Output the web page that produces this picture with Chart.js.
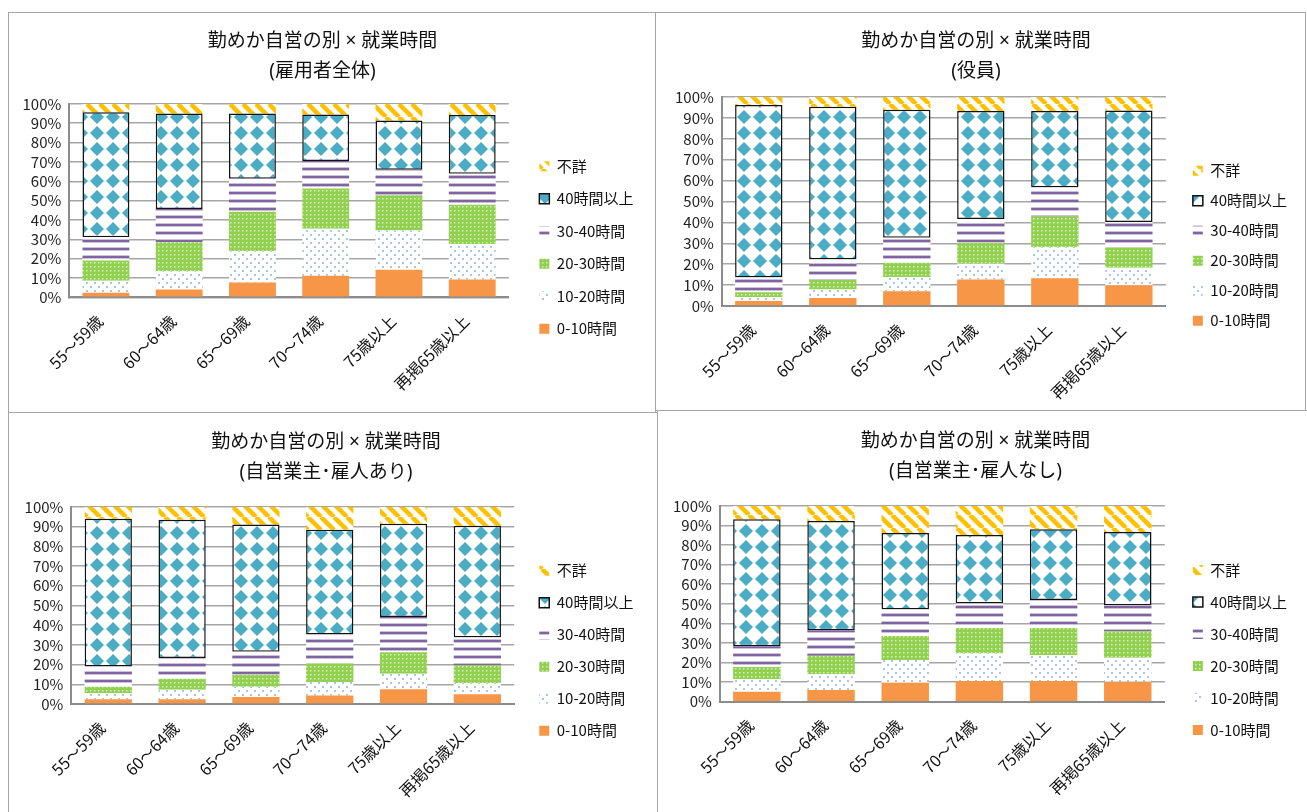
<!DOCTYPE html>
<html>
<head>
<meta charset="utf-8">
<script src="https://cdn.jsdelivr.net/npm/chart.js@4.4.0/dist/chart.umd.min.js"></script>
<style>
  body { margin: 0; background: #fff; width: 1307px; height: 812px; overflow: hidden; position: relative; }
  .frame { position: absolute; box-sizing: border-box; border: 1px solid #a6a6a6; }
  canvas { position: absolute; }
</style>
</head>
<body>
<div class="frame" style="left:8px;top:12px;width:648px;height:401px"></div>
<div class="frame" style="left:655px;top:12px;width:651px;height:399px"></div>
<div class="frame" style="left:8px;top:412px;width:650px;height:420px"></div>
<div class="frame" style="left:657px;top:410px;width:670px;height:420px"></div>
<canvas id="c1" width="646" height="420" style="left:9px;top:13px"></canvas>
<canvas id="c2" width="649" height="420" style="left:656px;top:13px"></canvas>
<canvas id="c3" width="648" height="420" style="left:9px;top:413px"></canvas>
<canvas id="c4" width="649" height="420" style="left:658px;top:411px"></canvas>
<script>
const categories = ['55～59歳', '60～64歳', '65～69歳', '70～74歳', '75歳以上', '再掲65歳以上']
const seriesNames = ['0-10時間', '10-20時間', '20-30時間', '30-40時間', '40時間以上', '不詳']
const mainTitle = '勤めか自営の別 × 就業時間'

// 雇用者全体
const allH0 = [2.4, 4.0, 7.6, 11.2, 14.2, 9.2]
const allH10 = [6.2, 9.5, 16.2, 24.2, 20.3, 18.4]
const allH20 = [10.4, 15.0, 20.4, 20.9, 18.3, 20.2]
const allH30 = [12.0, 17.1, 17.1, 14.2, 13.2, 16.1]
const allH40 = [64.7, 49.4, 33.7, 24.0, 25.4, 30.4]
const allUnk = [4.3, 5.0, 5.0, 5.5, 8.6, 5.7]

// 役員
const offH0 = [2.4, 3.8, 7.1, 12.7, 13.3, 9.9]
const offH10 = [1.9, 4.1, 6.7, 7.5, 14.9, 8.4]
const offH20 = [2.3, 4.6, 6.9, 10.1, 14.6, 9.6]
const offH30 = [7.0, 9.8, 12.0, 11.4, 13.9, 12.3]
const offH40 = [82.6, 73.1, 61.2, 51.7, 36.7, 53.4]
const offUnk = [3.8, 4.6, 6.1, 6.6, 6.6, 6.4]

// 自営業主･雇人あり
const empH0 = [2.4, 2.4, 3.6, 4.3, 7.5, 5.0]
const empH10 = [3.1, 4.8, 5.1, 6.8, 7.9, 5.6]
const empH20 = [3.2, 5.6, 6.2, 9.4, 10.9, 9.1]
const empH30 = [10.3, 10.6, 11.6, 14.7, 17.8, 14.0]
const empH40 = [75.0, 70.1, 64.6, 53.2, 47.4, 56.7]
const empUnk = [6.0, 6.5, 8.9, 11.6, 8.5, 9.6]

// 自営業主･雇人なし
const solH0 = [5.1, 6.0, 9.7, 10.6, 10.6, 10.2]
const solH10 = [6.5, 8.0, 11.6, 14.0, 13.3, 12.3]
const solH20 = [6.1, 9.5, 12.3, 13.1, 13.8, 13.5]
const solH30 = [10.6, 13.0, 13.5, 12.5, 14.3, 13.1]
const solH40 = [64.9, 55.8, 39.1, 35.0, 36.1, 37.6]
const solUnk = [6.8, 7.7, 13.8, 14.8, 11.9, 13.3]

const FONT = "'Noto Sans CJK JP', 'Noto Sans', sans-serif"
const TITLE_FONT = "'Noto Sans', 'Noto Sans CJK JP', sans-serif"

// ---------- fill patterns ----------
function tile(w, h, draw) {
  const c = document.createElement('canvas')
  c.width = w
  c.height = h
  const ctx = c.getContext('2d')
  draw(ctx, w, h)
  return ctx.createPattern(c, 'repeat')
}

const patStripe = tile(13, 13, (ctx, w) => {
  ctx.fillStyle = '#fff'
  ctx.fillRect(0, 0, w, w)
  ctx.strokeStyle = '#FFC000'
  ctx.lineWidth = 4.5
  for (let k = -1; k <= 1; k++) {
    ctx.beginPath()
    ctx.moveTo(k * w, 0)
    ctx.lineTo(k * w + w, w)
    ctx.stroke()
  }
})

const patDiamond = tile(16, 16, (ctx) => {
  ctx.fillStyle = '#fff'
  ctx.fillRect(0, 0, 16, 16)
  ctx.fillStyle = '#4BACC6'
  ctx.beginPath()
  ctx.moveTo(8, 1)
  ctx.lineTo(15, 8)
  ctx.lineTo(8, 15)
  ctx.lineTo(1, 8)
  ctx.closePath()
  ctx.fill()
})

const patLines = tile(8, 8, (ctx) => {
  ctx.fillStyle = '#fff'
  ctx.fillRect(0, 0, 8, 8)
  ctx.fillStyle = '#CCC1DA'
  ctx.fillRect(0, 2, 8, 4)
  ctx.fillStyle = '#8064A2'
  ctx.fillRect(0, 3, 8, 2)
})

const patGreen = tile(4, 4, (ctx) => {
  ctx.fillStyle = '#92D050'
  ctx.fillRect(0, 0, 4, 4)
  ctx.fillStyle = '#D6EEC0'
  ctx.fillRect(1, 1, 1.5, 1.5)
})

const patDots = tile(8, 8, (ctx) => {
  ctx.fillStyle = '#fff'
  ctx.fillRect(0, 0, 8, 8)
  ctx.fillStyle = '#A9C6EA'
  ctx.fillRect(1, 1, 2, 2)
  ctx.fillRect(5, 5, 2, 2)
})

const fills = ['#F79646', patDots, patGreen, patLines, patDiamond, patStripe]

// shift the legend block away from the plot, like Excel does
const legendShift = {
  id: 'legendShift',
  afterLayout(chart, args, opts) {
    const lg = chart.legend
    lg.left += opts.dx
    lg.right += opts.dx
    lg.top += opts.dy
    lg.bottom += opts.dy
  },
}

function makeChart(id, subtitle, series, look) {
  const datasets = series.map((data, i) => ({
    label: seriesNames[i],
    data: data,
    backgroundColor: fills[i],
    borderColor: i === 4 ? '#111' : 'transparent',
    borderWidth: i === 4 ? 1.5 : 0,
    borderSkipped: false,
  }))

  return new Chart(document.getElementById(id), {
    type: 'bar',
    data: { labels: categories, datasets: datasets },
    plugins: [legendShift],
    options: {
      responsive: false,
      animation: false,
      layout: { padding: look.pad },
      datasets: {
        bar: { categoryPercentage: 1, barPercentage: 0.64 },
      },
      scales: {
        x: {
          stacked: true,
          grid: { display: false, drawTicks: false },
          border: { color: '#8c8c8c', width: 2 },
          ticks: {
            minRotation: 45,
            maxRotation: 45,
            padding: 14,
            labelOffset: -6,
            color: '#111',
            font: { family: FONT, size: 16 },
          },
        },
        y: {
          stacked: true,
          min: 0,
          max: 100,
          grid: { color: '#A6A6A6', lineWidth: 1.5, drawTicks: false },
          border: { color: '#8c8c8c', width: 2 },
          ticks: {
            count: 11,
            autoSkip: false,
            padding: 8,
            color: '#222',
            font: { family: FONT, size: 15, lineHeight: 1 },
            callback: (v) => v + '%',
          },
        },
      },
      plugins: {
        legendShift: look.shift,
        title: {
          display: true,
          text: [mainTitle, subtitle],
          color: '#111',
          font: { family: TITLE_FONT, size: 19, weight: 'normal', lineHeight: 1.55 },
          padding: { top: look.titleTop, bottom: look.titleGap },
        },
        legend: {
          position: 'right',
          reverse: true,
          labels: {
            boxWidth: 10,
            boxHeight: 10,
            padding: look.legendGap,
            color: '#111',
            font: { family: FONT, size: 15 },
          },
        },
        tooltip: { enabled: false },
      },
    },
  })
}

makeChart('c1', '(雇用者全体)', [allH0, allH10, allH20, allH30, allH40, allUnk], {
  pad: { left: 5.5, right: 24.5, top: 0, bottom: 25 },
  titleTop: 14, titleGap: 18, legendGap: 17.5, shift: { dx: 13, dy: 37 },
})
makeChart('c2', '(役員)', [offH0, offH10, offH20, offH30, offH40, offUnk], {
  pad: { left: 11, right: 20, top: 0, bottom: 16.3 },
  titleTop: 14, titleGap: 11.2, legendGap: 15, shift: { dx: 12, dy: 30.8 },
})
makeChart('c3', '(自営業主･雇人あり)', [empH0, empH10, empH20, empH30, empH40, empUnk], {
  pad: { left: 7.6, right: 21.6, top: 0, bottom: 18.3 },
  titleTop: 15, titleGap: 20, legendGap: 17, shift: { dx: 8, dy: 36.8 },
})
makeChart('c4', '(自営業主･雇人なし)', [solH0, solH10, solH20, solH30, solH40, solUnk], {
  pad: { left: 7, right: 21, top: 0, bottom: 18.6 },
  titleTop: 16, titleGap: 20, legendGap: 17, shift: { dx: 11, dy: 38.2 },
})
</script>
</body>
</html>
